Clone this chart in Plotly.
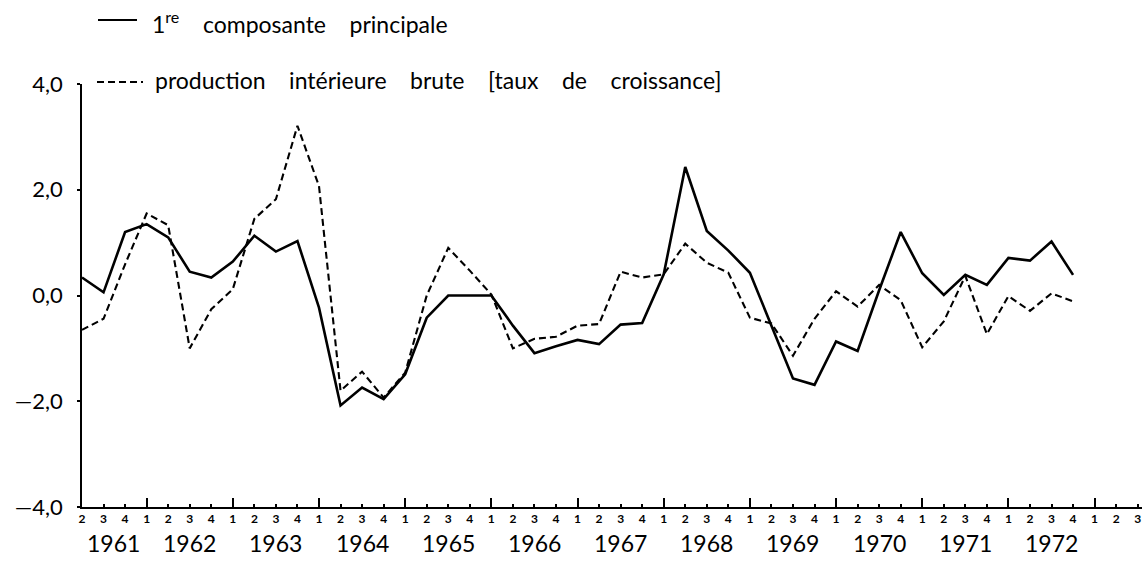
import plotly.graph_objects as go

# quarterly values, 1961 T2 .. 1972 T4
composante = [0.34, 0.06, 1.20, 1.35, 1.10, 0.45, 0.34, 0.64, 1.13, 0.83, 1.03, -0.23,
              -2.08, -1.74, -1.96, -1.49, -0.42, 0.0, 0.0, 0.0, -0.57, -1.09, -0.96, -0.84,
              -0.92, -0.55, -0.52, 0.40, 2.43, 1.22, 0.85, 0.43, -0.57, -1.57, -1.69, -0.87,
              -1.05, 0.10, 1.20, 0.42, 0.01, 0.39, 0.20, 0.71, 0.66, 1.02, 0.39]
pib = [-0.65, -0.44, 0.59, 1.55, 1.33, -1.00, -0.26, 0.12, 1.45, 1.82, 3.21, 2.07,
       -1.80, -1.44, -1.93, -1.46, 0.0, 0.90, 0.47, 0.02, -1.00, -0.82, -0.78, -0.57,
       -0.54, 0.45, 0.34, 0.40, 0.98, 0.62, 0.43, -0.42, -0.53, -1.14, -0.44, 0.08,
       -0.21, 0.20, -0.09, -0.98, -0.49, 0.37, -0.73, -0.01, -0.29, 0.04, -0.11]

# axis: 1961 T2 .. 1973 T3
quarter_labels = [2, 3, 4] + [1, 2, 3, 4] * 11 + [1, 2, 3]
years = list(range(1961, 1973))
y_ticks = [-4, -2, 0, 2, 4]
y_labels = ["\u20144,0", "\u20142,0", "0,0", "2,0", "4,0"]

FONT = "Lato"
SP = "\u00a0" * 4
x_idx = list(range(len(composante)))
q_idx = list(range(len(quarter_labels)))
q1_idx = [i for i, q in enumerate(quarter_labels) if q == 1]

fig = go.Figure()
fig.add_trace(go.Scatter(x=x_idx, y=composante, mode="lines",
                         line=dict(color="black", width=2.6), name="1re composante principale"))
fig.add_trace(go.Scatter(x=x_idx, y=pib, mode="lines",
                         line=dict(color="black", width=2.1, dash="7px,4px"),
                         name="production intérieure brute [taux de croissance]"))
# invisible trace to carry the long Q1 ticks
fig.add_trace(go.Scatter(x=[0], y=[None], xaxis="x2", showlegend=False, hoverinfo="skip"))

W, H = 1144, 562
L, R, T, B = 82, 2, 84, 55
pw = W - L - R
ph = H - T - B


def px(x):
    return (x - L) / pw


def py(y):
    return (H - B - y) / ph


annotations = []
for yr in years:
    pos = (yr - 1961) * 4 + 1
    if yr == 1961:
        pos += 0.45
    annotations.append(dict(x=pos, y=py(543), xref="x", yref="paper", text=str(yr),
                            showarrow=False, font=dict(family=FONT, size=23, color="black"),
                            xanchor="center", yanchor="middle"))

annotations.append(dict(x=px(150), y=py(22), xref="paper", yref="paper",
                        text="1<sup>re</sup>" + SP + SP.join(["composante", "principale"]),
                        showarrow=False, font=dict(family=FONT, size=23, color="black"),
                        xanchor="left", yanchor="middle"))
annotations.append(dict(x=px(153), y=py(80), xref="paper", yref="paper",
                        text=SP.join(["production", "intérieure", "brute", "[taux", "de", "croissance]"]),
                        showarrow=False, font=dict(family=FONT, size=23, color="black"),
                        xanchor="left", yanchor="middle"))

shapes = [
    dict(type="line", xref="paper", yref="paper", x0=px(98), x1=px(137), y0=py(20), y1=py(20),
         line=dict(color="black", width=2)),
    dict(type="line", xref="paper", yref="paper", x0=px(97), x1=px(143), y0=py(82), y1=py(82),
         line=dict(color="black", width=2, dash="7px,4px")),
]

fig.update_layout(
    width=W, height=H,
    margin=dict(l=L, r=R, t=T, b=B),
    paper_bgcolor="white", plot_bgcolor="white",
    showlegend=False,
    font=dict(family=FONT, color="black"),
    annotations=annotations,
    shapes=shapes,
    xaxis=dict(range=[0, 49.2], showgrid=False, zeroline=False, showline=True,
               linecolor="black", linewidth=2, ticks="inside", ticklen=3, tickwidth=1.5,
               tickcolor="black", tickvals=q_idx, ticktext=[str(q) for q in quarter_labels],
               tickfont=dict(family=FONT, size=12, color="black", weight="bold")),
    xaxis2=dict(range=[0, 49.2], overlaying="x", anchor="y", side="bottom",
                showgrid=False, zeroline=False, showline=False, showticklabels=False,
                ticks="inside", ticklen=9, tickwidth=1.5, tickcolor="black", tickvals=q1_idx),
    yaxis=dict(range=[-4, 4], showgrid=False, zeroline=False, showline=True,
               linecolor="black", linewidth=1.5, ticks="outside", ticklen=3, tickwidth=1.5,
               tickcolor="black", tickvals=y_ticks, ticktext=y_labels, ticklabelstandoff=10,
               tickfont=dict(family=FONT, size=22, color="black")),
)

fig.write_html("out.html", config={"displayModeBar": False},
               post_script="document.body.style.margin='0';")
